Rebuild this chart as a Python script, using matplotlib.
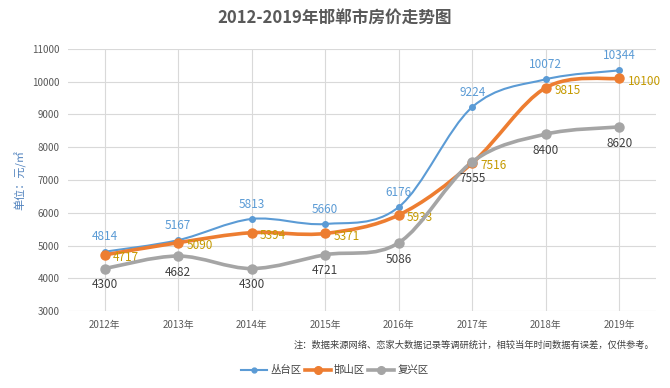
#!/usr/bin/env python3
import numpy as np
import matplotlib
matplotlib.use("Agg")
import matplotlib.pyplot as plt
from matplotlib.path import Path
from matplotlib.patches import PathPatch
from matplotlib.lines import Line2D

plt.rcParams['font.family'] = ['Noto Sans CJK SC', 'DejaVu Sans']

years = ["2012年", "2013年", "2014年", "2015年", "2016年", "2017年", "2018年", "2019年"]
congtai = [4814, 5167, 5813, 5660, 6176, 9224, 10072, 10344]
hanshan = [4717, 5090, 5394, 5371, 5933, 7516, 9815, 10100]
fuxing = [4300, 4682, 4300, 4721, 5086, 7555, 8400, 8620]
names = ["丛台区", "邯山区", "复兴区"]


def smooth_path(xs, ys):
    # excel-like smoothed line: catmull-rom turned into cubic beziers
    pts = np.column_stack([xs, ys]).astype(float)
    n = len(pts)
    verts = [pts[0]]
    codes = [Path.MOVETO]
    for i in range(n - 1):
        p0 = pts[i - 1] if i > 0 else pts[i]
        p1 = pts[i]
        p2 = pts[i + 1]
        p3 = pts[i + 2] if i + 2 < n else pts[i + 1]
        c1 = p1 + (p2 - p0) / 6.0
        c2 = p2 - (p3 - p1) / 6.0
        verts += [c1, c2, p2]
        codes += [Path.CURVE4] * 3
    return Path(verts, codes)


fig = plt.figure(figsize=(6.7, 3.88), dpi=100)
ax = fig.add_axes([0.1015, 0.198, 0.8775, 0.676])

x = np.arange(len(years))
series = [
    (congtai, "#5B9BD5", 1.5, 4.0, "#5B9BD5", "above"),
    (hanshan, "#ED7D31", 2.6, 6.5, "#C59A00", "right"),
    (fuxing, "#A5A5A5", 2.6, 6.5, "#404040", "below"),
]

for vals, color, lw, ms, lcolor, pos in series:
    patch = PathPatch(smooth_path(x, vals), facecolor="none", edgecolor=color,
                      lw=lw, zorder=3, capstyle="round")
    ax.add_patch(patch)
    ax.plot(x, vals, "o", color=color, ms=ms, zorder=4, mec=color)
    for xi, v in zip(x, vals):
        if pos == "above":
            ax.annotate(str(v), (xi, v), xytext=(0, 6), textcoords="offset points",
                        ha="center", va="bottom", fontsize=8.5, color=lcolor)
        elif pos == "right":
            ax.annotate(str(v), (xi, v), xytext=(6, -2), textcoords="offset points",
                        ha="left", va="center", fontsize=8.5, color=lcolor)
        else:
            ax.annotate(str(v), (xi, v), xytext=(0, -7), textcoords="offset points",
                        ha="center", va="top", fontsize=8.5, color=lcolor)

ax.set_xlim(-0.5, len(years) - 0.5)
ax.set_ylim(3000, 11000)
ax.set_yticks(np.arange(3000, 11001, 1000))
ax.set_xticks(x)
ax.set_xticklabels(years)
ax.tick_params(length=0, labelsize=7, colors="#595959", pad=6)
ax.grid(True, color="#D9D9D9", lw=0.8)
ax.set_axisbelow(True)
for s in ax.spines.values():
    s.set_visible(False)

ax.set_ylabel("单位：元/㎡", color="#4F81BD", fontsize=8, labelpad=4)

fig.text(0.5, 0.953, "2012-2019年邯郸市房价走势图", ha="center", va="center",
         fontsize=12, fontweight="bold", color="#595959")
fig.text(0.976, 0.111, "注：数据来源网络、恋家大数据记录等调研统计，相较当年时间数据有误差，仅供参考。",
         ha="right", va="center", fontsize=6.7, color="#404040")

handles = [
    Line2D([], [], color="#5B9BD5", lw=1.5, marker="o", ms=3.5),
    Line2D([], [], color="#ED7D31", lw=2.6, marker="o", ms=5.5),
    Line2D([], [], color="#A5A5A5", lw=2.6, marker="o", ms=5.5),
]
fig.legend(handles, names, loc="center", bbox_to_anchor=(0.5, 0.046), ncol=3,
           frameon=False, fontsize=7.5, handlelength=2.5, handletextpad=0.3,
           columnspacing=0.3, labelcolor="#404040")

fig.savefig("out.png", dpi=100)
